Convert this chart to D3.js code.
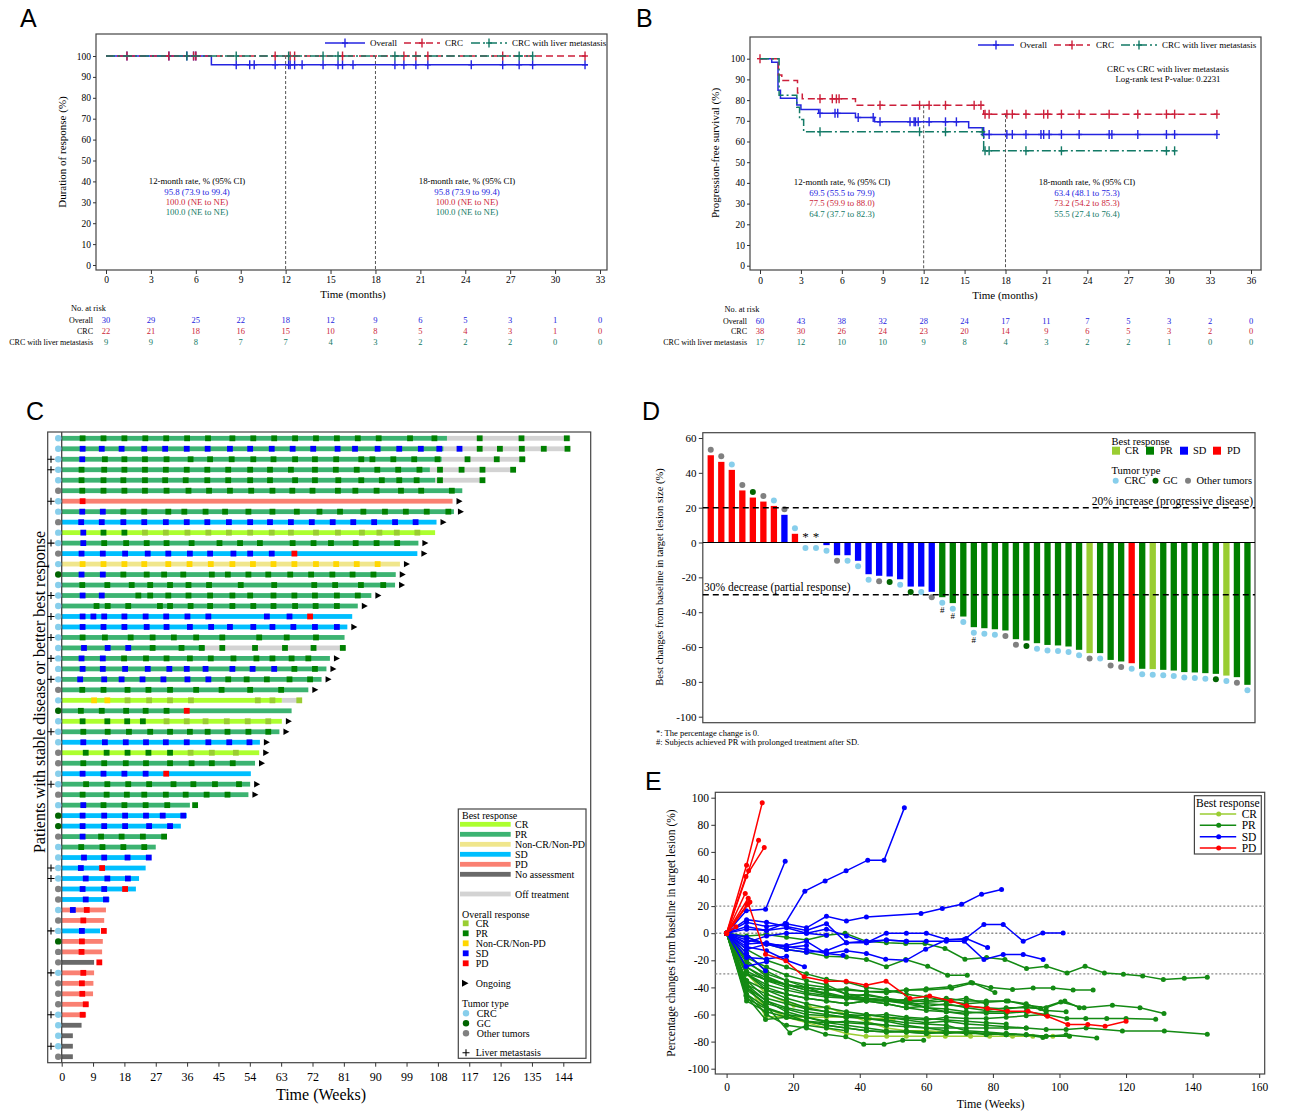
<!DOCTYPE html>
<html>
<head>
<meta charset="utf-8">
<style>
  html, body { margin: 0; padding: 0; background: #fff; overflow: hidden; }
</style>
</head>
<body>
<script src="https://d3js.org/d3.v7.min.js"></script>
<script>
const width = 1293, height = 1115;
const serif = "'Liberation Serif', 'Times New Roman', serif";
const sans = "'Liberation Sans', Arial, sans-serif";

// ---------- A / B: Kaplan-Meier curves ----------
const kmNames = ["Overall", "CRC", "CRC with liver metastasis"];
const kmColors = ["#2424e0", "#cc1f3a", "#137a66"];
const kmDash = [null, "7,4", "9,3,2,3"];
const kmYTicks = [0, 10, 20, 30, 40, 50, 60, 70, 80, 90, 100];

// A: duration of response (months, %)
const aTicks = [0, 3, 6, 9, 12, 15, 18, 21, 24, 27, 30, 33];
const aOverallSteps = [[0, 100], [7.04, 95.8]];
const aCrcSteps = [[0, 100]];
const aLiverSteps = [[0, 100]];
const aEnds = [32.2, 32.2, 28.5];
const aOverallCens = [1.4, 4.2, 5.4, 5.85, 6.0, 8.7, 9.6, 9.9, 11.3, 12.2, 12.3, 12.6, 13.1, 14.5, 15.5, 15.8, 16.5, 19.3, 19.9, 20.7, 21.5, 24.4, 26.5, 27.6, 28.5, 32.0];
const aCrcCens = [1.4, 4.2, 5.85, 6.0, 11.3, 12.3, 12.6, 15.8, 19.9, 20.7, 21.5, 26.5, 32.0];
const aLiverCens = [5.4, 8.7, 12.2, 14.5, 15.5, 19.3, 27.6, 28.5];
const aRisk = [[30, 29, 25, 22, 18, 12, 9, 6, 5, 3, 1, 0],
               [22, 21, 18, 16, 15, 10, 8, 5, 4, 3, 1, 0],
               [9, 9, 8, 7, 7, 4, 3, 2, 2, 2, 0, 0]];
const aRate12 = ["95.8 (73.9 to 99.4)", "100.0 (NE to NE)", "100.0 (NE to NE)"];
const aRate18 = ["95.8 (73.9 to 99.4)", "100.0 (NE to NE)", "100.0 (NE to NE)"];

// B: progression-free survival
const bTicks = [0, 3, 6, 9, 12, 15, 18, 21, 24, 27, 30, 33, 36];
const bOverallSteps = [[0, 100], [0.86, 98.3], [1.32, 84.7], [1.5, 80.9], [2.7, 77.6], [3.0, 75.5], [4.3, 73.6], [7.0, 71.6], [8.4, 69.5], [15.3, 66.7], [16.4, 63.4]];
const bCrcSteps = [[0, 100], [1.35, 92.1], [1.6, 89.5], [2.75, 83.4], [3.1, 80.6], [7.0, 77.5], [16.4, 73.2]];
const bLiverSteps = [[0, 100], [1.4, 82.4], [2.7, 76.5], [2.9, 70.6], [3.2, 64.7], [16.4, 55.5]];
const bEnds = [33.5, 33.5, 30.4];
const bOverallCens = [4.4, 5.5, 5.7, 7.2, 8.3, 8.8, 11.0, 11.3, 11.4, 11.6, 12.4, 13.6, 14.4, 16.4, 16.8, 18.1, 18.5, 19.5, 20.6, 20.8, 21.2, 22.1, 23.4, 25.6, 25.8, 27.7, 29.8, 30.4, 33.5];
const bCrcCens = [0, 4.4, 5.3, 5.6, 5.8, 8.8, 11.7, 12.4, 13.6, 15.7, 16.2, 16.5, 16.8, 18.1, 18.5, 19.5, 20.8, 21.1, 22.1, 23.4, 25.6, 27.7, 29.8, 30.4, 33.5];
const bLiverCens = [4.4, 11.7, 13.6, 16.3, 16.5, 16.8, 19.5, 22.1, 29.8, 30.4];
const bRisk = [[60, 43, 38, 32, 28, 24, 17, 11, 7, 5, 3, 2, 0],
               [38, 30, 26, 24, 23, 20, 14, 9, 6, 5, 3, 2, 0],
               [17, 12, 10, 10, 9, 8, 4, 3, 2, 2, 1, 0, 0]];
const bRate12 = ["69.5 (55.5 to 79.9)", "77.5 (59.9 to 88.0)", "64.7 (37.7 to 82.3)"];
const bRate18 = ["63.4 (48.1 to 75.3)", "73.2 (54.2 to 85.3)", "55.5 (27.4 to 76.4)"];

// ---------- C: swimmer plot ----------
const swimTicks = [0, 9, 18, 27, 36, 45, 54, 63, 72, 81, 90, 99, 108, 117, 126, 135, 144];
const swimTumor = "CCCCCOCCOCCOCGCCCCCCCCCCOCGCCCOOCCOCGGOCCCCOOCOCGOOCOOOCCCCO";
const swimBest = "PPPPPPDPSCPSNPPPPSSPPPPPPCPCPSCPSPPPSSPPSSSSSDDSDDXDDDDDXXXX";
const swimLiver = [3, 4, 7, 11, 16, 18, 20, 22, 24, 29, 34, 42, 43, 48, 52, 56, 59];
const swimOngoing = [7, 8, 9, 11, 12, 13, 14, 15, 16, 17, 19, 22, 23, 24, 25, 28, 29, 30, 31, 32, 34, 35];
const swimEnd = [110.6, 109.6, 109.1, 105.7, 107.2, 115, 112.2, 112.6, 107.6, 107.2,
                 102.4, 102.1, 97.1, 95.9, 95.7, 88.9, 85, 83.4, 82, 81.2,
                 41.1, 77, 76, 74.6, 70.8, 63.2, 66, 63.2, 62.5, 56.9,
                 56.7, 55.5, 54.3, 54.1, 53.6, 36.8, 35.9, 34.2, 30.1, 27,
                 25.4, 24.1, 22.2, 21.3, 13.7, 12.7, 12.2, 11, 11.8, 11.6,
                 9.3, 9.3, 9.1, 9, 7.7, 7, 5.7, 3.2, 3.2, 3.2];
const swimOffEnd = [[1, 146], [2, 146], [3, 133.3], [4, 130.4], [5, 121.5], [21, 81.6], [26, 68.9]];
const swimAssess = [
  "6P 12P 18P 24P 30P 36P 42P 49P 55P 61P 67P 73P 79P 85P 91P 100P 107P 120P 132P 145P",
  "6S 11.5S 17.2S 23.7S 29.7S 35.9S 41.9S 48.3S 54.1S 60.3S 66.3S 72.2S 79.2S 84.2S 90.7S 96.9S 103.1S 108.4S 114.2S 120P 125.8P 132.1P 138.4P 145.2P",
  "5.9S 12.4P 18P 23.9P 30.1P 37P 42.6P 48.8P 55P 60.8P 67P 72.7P 78.8P 86P 89.2P 95.2P 101.2P 107.9P 116.5P 124.9P 132.2P",
  "5.7P 12.2P 18P 23.9P 29.9P 35.9P 41.8P 47.8P 54.1P 59.8P 65.8P 72.7P 78.7P 84.7P 90.6P 96.6P 102.7P 108.6P 114.8P 120.8P 129.6P",
  "5.7P 12P 17.7P 23.9P 29.7P 35.6P 41.8P 47.8P 54.1P 59.8P 67P 72.7P 79.4P 86P 91.9P 96.9P 101.9P 108.6P 120.8P",
  "5.9P 12P 18P 23.9P 30.1P 36.4P 42.3P 48.3P 54.4P 60.5P 66.2P 72P 79.3P 84.3P 90.4P 97.4P 103.2P 112P",
  "6D",
  "5.9S 11.8S 17.7P 23.7P 30.6P 35.2P 41.3P 46.9P 53.6P 60.5P 67.5P 74P 79.9P 86.6P 92.8P 98.8P 104.8P 111P",
  "5.6S 11.5S 17.7S 23.7S 29.9S 35.9S 41.8S 48S 54.1S 59.8S 65.8S 71.8S 77.8S 83.7S 89.7S 95.7S 101.6S",
  "6.2S 12P 18P 23.9C 29.9C 36.1C 42.1C 48C 54.1C 60.3C 65.8C 73C 79.3C 86.2C 91.2C 96.2C 102.1C",
  "6.2S 12.2P 18.5P 24.4P 30.1P 37.3P 45.3P 51.2P 56.9P 66.3P 72.3P 77.3P 84.4P 90.4P 96.3P",
  "5.7S 11.8S 18.2S 24.7S 30.6S 36.8S 42.6S 49.3S 54.1S 60.3S 66.8D",
  "6N 12N 18N 23.7N 30.6N 36.7N 42.8N 49N 54.9N 60.8N 66.8N 73N 78.8N 84.7N 90.7N",
  "5.7S 11.8S 17.7P 24.4P 29.4P 34.9P 43.1P 47.7P 53.6P 59.3P 65.6P 71.6P 77.7P 83.5P 89.5P",
  "5.9P 13.1P 20.1P 25.4P 31.1P 36.4P 42.3P 51.4P 61P 72.5P 78.5P 85.9P 92.3P",
  "6S 11.5S 22P 25.4P 30.6P 36.4P 42.6P 49P 54.1P 60.8P 66.8P 72.7P 79P 85P",
  "10P 13.2P 19.1P 28.2P 31.1P 37P 42.6P 49P 55P 60.8P 67P 72.9P 79P",
  "6S 9.1S 12.2S 18S 24.1S 30S 36.1S 42.1S 58.9S 65.4S 71.3D",
  "6S 12S 18S 24.4S 30.1S 36.8S 42.9S 48.3S 55S 60.5S 66.5S 72.7S 79S",
  "6P 12.4P 19.8P 26.1P 32.2P 38.6P 46.1P 56.7P 64.6P 73P",
  "6.4S 13.2S 19.1S 26.1P 34.4P 40.2P 46.1P 55.5P 64.1P 72.3P 80.7P",
  "5.7S 11.8S 17.9P 24.2P 30.1P 36.8P 42.8P 49.3P 55.9P 60.5P 66P 70.8P",
  "6S 11.8S 18.2S 24.7S 30.9S 35.9S 41.3S 49S 54.8S 61S 66.8P 72.7P",
  "5.3S 12.2S 17.2S 23.2S 29.2S 36.1S 42.1S 47.8P 53.1P 58.9P 65.4P 71.3P",
  "5.9P 12P 18.9P 24.9P 31.1P 38.6P 45.9P 54.1P 63P",
  "9.3N 13.1N 18.9C 25.1C 31.1C 37.1C 56.3C 60.5C 68.2C",
  "5.5P 11.5P 18.5P 24.1P 30.1P 35.9D",
  "6P 13.1P 18.8P 23.3P 30.1C 35.9C 41.3C 47.4C 53.4C 59.3C",
  "6.2P 13.2P 19.3P 25.4P 31.1P 36.8P 41.9P 47.6P 53.6P 59.3P",
  "6.2S 12.4S 18.4S 24.2S 29.9S 35.9S 42.1S 48.1S 53.9S",
  "6.9P 12.9P 18.9P 24.9P 31.1P 37C 43.1C 50C",
  "6.2P 12.2P 18.4P 24.2P 31.1P 37.3P 43.1P 49.1P",
  "6S 12S 18S 24.1S 30D",
  "7P 13.1P 19.1P 25.1P 32.1P 37.8P 44P 50.9P",
  "6P 12.9P 18.7P 23.7P 29.9P 35.6P 41.6P 47.6P",
  "6.2S 12P 18P 24.1P 30.3P 38.3P",
  "6S 12.2S 18.2S 24.2S 29S 34.9S",
  "6S 12.2S 18.2S 25.1S 31.1S",
  "6S 11.3P 17.2P 23.3P 29.4P",
  "5.6P 11.7P 17.7P 23.7P",
  "6.4S 12.2S 18.9S 25S",
  "5.5S 11.6D",
  "6.9S 13.1S 19S",
  "6S 12.2S 18.2D",
  "6.9S 12.7S",
  "3.2S 7.2D",
  "6.2D",
  "5.8S 12.1D",
  "5.8D",
  "5.7D",
  "10.8D",
  "6.2D",
  "5.8D",
  "5.9D",
  "6.9D",
  "6D",
  "", "", "", ""
];
const barColor = { C: "#adff2f", P: "#3cb371", N: "#f0e68c", S: "#00bfff", D: "#fa8072", X: "#696969" };
const offColor = "#d3d3d3";
const respColor = { C: "#9acd32", P: "#008000", N: "#ffd700", S: "#0000ff", D: "#ff0000" };
const tumorColor = { C: "#87ceeb", G: "#006400", O: "#808080" };

// ---------- D: waterfall ----------
const dYTicks = [-100, -80, -60, -40, -20, 0, 20, 40, 60];
const dValues = [50.1, 46.3, 41.7, 29.9, 25.8, 23.5, 21.0, 15.9, 5.0, 0,
                 0, -1.5, -7.3, -7.3, -10.5, -18.2, -19.1, -19.5, -21.1, -25.3,
                 -25.3, -28.3, -31.4, -34.8, -42.5, -48.6, -49.2, -49.8, -50.5, -55.5,
                 -56.3, -57.8, -58.8, -59.1, -59.7, -61.6, -63.5, -63.5, -67.4, -68.3,
                 -69.3, -72.5, -72.7, -73.1, -73.5, -74.4, -74.6, -75.0, -75.4, -76.4,
                 -77.3, -81.7];
const dBest = "DDDDDDDSDSSSSSSSSSSSSSPPPPPPPPPPPPPPCPPPDPCPPPPPPCPP";
const dTumor = "OOCOGOCOCCCCOCCCOGCGCOCCCCCCOOGCCCCCOCOOCCCCCCCCGCOC";
const dZeroMark = [10, 11];
const dHashMark = [23, 24, 26];

// ---------- E: spider plot (weeks, % change) ----------
const eXTicks = [0, 20, 40, 60, 80, 100, 120, 140, 160];
const eYTicks = [-100, -80, -60, -40, -20, 0, 20, 40, 60, 80, 100];
const eCR = [
  "0 0,6 -35,11.7 -61.7,18 -61.7,24 -62,30 -62,35.6 -61.7,42.9 -63,47.5 -63,50 -63.5",
  "0 0,6 -30,12 -45,20.2 -53.1,24.9 -54.9,30.5 -54.9,36 -60,42 -65,48 -70,54 -72,60 -72,66 -73,72 -73",
  "0 0,6 -40,12 -55,18 -62,24 -66,30 -70,36 -74,41.9 -76,48.1 -76,54 -76,60.7 -76,65.7 -76,73.3 -76,79 -76,85.9 -76,92 -76,98 -76,103 -76"
];
const ePR = [
  "0 0,6 -3,12 -8,18 -12,24 -14,30 -17,36 -17.5,42 -19.4,48 -24.8,53.8 -19.4,60.4 -24.4,66.4 -31,72.3 -31",
  "0 0,6 -2,12 -1,18 -3,24 -5,30 -1.5,35.6 0,42 -6,48 -7,53.8 -7.6,59.6 -7.6,65.6 -11.3,71.6 -19.2,78.1 -17.9,83.6 -19.4,90.1 -26,96.1 -24.4,102.3 -29.3,107.7 -24.4,113.5 -29.3,119.2 -30.3,125 -31.5,131.2 -34.2,137.5 -33.2,144.4 -32.5",
  "0 0,6 -30,12 -34,18 -38,24 -40,30 -42,36 -41,42 -43,48 -44,54 -42,60 -41,67.1 -39.6,73.4 -36.4,79.4 -40.1,85.9 -41.5,92.1 -40.4,98.1 -40.4,104.1 -42,110.1 -42",
  "0 0,6 -35,12 -42,18 -45,24 -48,30 -50,36 -52,42 -50,48 -52,54 -55,60 -54,66 -52,72 -55,78 -57,84 -55,90 -55,94.3 -55.6,100.4 -50.7,107.4 -55.1,115.9 -53.1,124.2 -55.1,131.4 -59.3",
  "0 0,6 -40,12 -50,18 -55,24 -58,30 -60,36 -62,42 -60,48 -62,54 -63,60 -64,66 -62,72 -63,78 -63,84 -62,90 -61,96 -60,102.2 -63,107.9 -63,114.2 -63,120 -63,128.9 -63.5",
  "0 0,6 -45,12 -55,18 -60,24 -62,30 -65,36 -66,42 -67,48 -68,54 -69,60 -70,66 -70,72 -70,78 -70,84 -70,90 -70,96 -71,102 -71,108 -70,118.9 -72.1,131.5 -72.1,144.4 -74.5",
  "0 0,6 -50,12 -58,18 -62,24 -65,30 -68,36 -70,42 -72,48 -73,54 -72,60 -73,66 -74,72 -73,78 -75,84 -74,90 -75,96 -76,102 -75,111.2 -77.3",
  "0 0,6 -45,12 -60,18 -68,24 -70,29.7 -74.5,35.8 -76.5,41.2 -81.9,47.3 -81.9,52.9 -79,59.2 -79",
  "0 0,6 -40,11.7 -53,19 -73.6,24 -68,30 -70,36 -72",
  "0 0,5.8 -46,11.7 -63.7,18 -62,24 -65,30 -66,36 -65,42 -66,48 -68",
  "0 0,6 -38,12 -50,18 -58,24 -62,30 -66,36 -68,42 -70,48 -72,54 -73,60 -74,66 -73,72 -74,78 -74,84 -75,90 -75,96 -76,103 -76",
  "0 0,6 -30,12 -42,18 -48,24 -52,30 -55,36 -58,42 -60,48 -62,54 -64,60 -66,66 -65,72 -67,78 -68,84 -69,90 -70",
  "0 0,6 -25,12 -35,18 -40,24 -44,30 -46,36 -47,42 -48,48 -50,54 -52,60 -52,66 -53,72 -54,78 -55,84 -56,90 -54,96 -57,102 -58",
  "0 0,6 -30,12 -40,18 -45,24 -48,30 -50,36 -52,42 -50,48 -50,54 -51,60 -50,66 -48,72 -50,78 -50,84.6 -50,90 -53,96 -55,101.6 -50,106 -55",
  "0 0,6 -28,12 -35,18 -38,24 -40,30 -42,36 -42,42 -43,48 -43,54 -42,59.8 -42,67.6 -40.6,73.9 -36.7,80.6 -43.8",
  "0 0,6 -20,12 -32,18 -38,24 -42,30 -45,36 -48,42 -50,48 -52,54 -55,60 -57,66 -58,72 -60",
  "0 0,6 -22,12 -30,18 -35,24 -38,30 -40,36 -45,42 -46,48 -48,54 -50,60 -55,66 -56,72 -58,78 -59,84 -59,90 -58,96 -60",
  "0 0,6 -35,12 -48,18 -52,24 -56,30 -58,36 -60,42 -61,48 -60,54 -62,60 -63,66 -64,72 -65,78 -66,84 -67",
  "0 0,6 -15,12 -28,18 -35,24 -40,30 -45,36 -48,42 -49,48 -50,54 -49,60 -51,66 -50,72 -52,78 -51,84 -50,90 -52,96 -58",
  "0 0,6 -42,12 -52,18 -56,24 -60,30 -61,36 -62,42 -63,48 -64,54 -66,60 -67,66 -68,72 -72,78 -73,84 -74,90 -75,95 -77",
  "0 0,6 -30,12 -38,18 -42,24 -45,30 -47,36 -48,42 -49",
  "0 0,6 -25,12 -33,18 -38,24 -42,30 -44,36 -47,42 -45,48 -48,54 -52,60 -55,66 -58,72 -59,78 -58,84 -58",
  "0 0,6 -18,12 -25,18 -31,24 -35,30 -38,36 -45,42 -48,48 -49,54 -50,60 -49",
  "0 0,6 -48,12 -56,18 -60,24 -65,30 -68,36 -70,42 -72,48 -73,54 -73,60 -74,66 -73,72 -73,78 -74,84 -75",
  "0 0,6 -12,12 -20,18 -25,24 -30,30 -34,36 -36,42 -40,48 -42,54 -45,60 -47,66 -50,72 -48,78 -52",
  "0 0,6 -38,12 -45,18 -50,24 -55,30 -58,36 -60,42 -63,48 -65,54 -68,60 -70,66 -72"
];
const eSD = [
  "0 0,6 3,12 2,17.6 7.2,23.5 31,29.6 38.6,35.9 46,42.4 53.9,47.3 53.9,53.4 92.5",
  "0 0,5.9 16.5,11.7 17.7,17.6 53.1",
  "0 0,6 8,12 5,18 7,24 4,30 12.5,36 9,42 12,58.4 14.5,64.8 18.2,70.6 21.4,76.6 28.8,82.6 32.2",
  "0 0,6 5,12 2,18 4,24 0,30 3,36 -2,42 -7,48 0,54 0,60 0,66.1 -4.7,71.4 -4.7,77.3 6.4,83.1 6.4,89.1 -5.9,95 0.2,101.1 0.2",
  "0 0,6 -12,12 -8,18 -12,24 -14,30 -13,36 -7,42 -6,48 -5,54 -6,60 -6,66 -6,71.4 -6,77.3 -19.4,83.1 -15.7,89.1 -15.7,95.1 -19.4",
  "0 0,6 -5,12 -8,18 -9,24 -6,30 -15,36 -13,42 -15,47.8 -19.2,53.9 -20,59.8 -11.8,66 -5,72 -4,78.4 -10.6",
  "0 0,6 -3,12 -8,18 -10,24 -12,30 -15,35 -16.2",
  "0 0,6 -10,12 -13,18 -20,23.4 -24.8",
  "0 0,6 -15,11.7 -27.8",
  "0 0,5.8 -24.6,12 -21",
  "0 0,6 -8,12 -7,18 -10.5,24 -9",
  "0 0,6 -18,12 -19,18 -17",
  "0 0,6 -7,12 -2,18 0,24 0,30 -1.5",
  "0 0,6 10,12 8,18 5,24 2,30 7,36 -7,42 -7,48 -5,54 -6"
];
const ePD = [
  "0 0,6 50.2,10.7 96.2",
  "0 0,6.6 46,9.6 68.6",
  "0 0,5.8 41.8,11.3 63.2",
  "0 0,5.6 29.3",
  "0 0,6.5 25.8",
  "0 0,7 23.1",
  "0 0,6.2 21",
  "0 0,2.8 4.7",
  "0 0,6.5 21.9,11.7 -15.5,17.8 -20.4,23.3 -32.2,29.9 -35.4,35.9 -35.4,41.9 -38.4,47.9 -35.4,55.1 -48.2,61 -46.3,67.4 -50,72.1 -53.6,78.4 -55.6,84.4 -57.6,90.6 -57.6,96.4 -61.3,102.5 -67.4,108.5 -67.4,113.7 -68.6,120 -65"
];
const eGroups = ["CR", "PR", "SD", "PD"];
const eColors = ["#9acd32", "#138a13", "#0000ff", "#ff0000"];

// ------------------------------------------------------------
const svg = d3.select("body").append("svg")
  .attr("width", width).attr("height", height)
  .style("background", "#fff")
  .style("font-family", serif);

// plain hyphen for negative tick labels, as in the original
const plainNum = d => String(d);

function txt(g, x, y, s, size, opts = {}) {
  return g.append("text").attr("x", x).attr("y", y).text(s)
    .attr("font-size", size)
    .attr("fill", opts.fill || "#000")
    .attr("text-anchor", opts.anchor || "start")
    .attr("dominant-baseline", "central")
    .attr("font-family", opts.family || serif);
}

function vtxt(g, x, y, s, size) {
  return g.append("text").attr("transform", `translate(${x},${y}) rotate(-90)`)
    .attr("text-anchor", "middle").attr("dominant-baseline", "central")
    .attr("font-size", size).text(s);
}

function letter(s, x, y) {
  svg.append("text").attr("x", x).attr("y", y).text(s)
    .attr("font-family", sans).attr("font-size", 25);
}

function frame(g, l, t, r, b) {
  g.append("rect").attr("x", l).attr("y", t).attr("width", r - l).attr("height", b - t)
    .attr("fill", "none").attr("stroke", "#444").attr("stroke-width", 1.2);
}

function styleAxis(sel, size) {
  sel.select(".domain").remove();
  sel.selectAll(".tick line").attr("stroke", "#333");
  sel.selectAll(".tick text").attr("font-size", size).attr("font-family", serif).attr("fill", "#000");
}

function survAt(steps, t) {
  let v = 100;
  steps.forEach(s => { if (s[0] <= t) v = s[1]; });
  return v;
}

function censorMark(g, x, y, color) {
  g.append("line").attr("x1", x).attr("x2", x).attr("y1", y - 4.5).attr("y2", y + 4.5)
    .attr("stroke", color).attr("stroke-width", 1.4);
  g.append("line").attr("x1", x - 3).attr("x2", x + 3).attr("y1", y).attr("y2", y)
    .attr("stroke", color).attr("stroke-width", 1.4);
}

// ---------- KM panel ----------
function drawKM(c) {
  const g = svg.append("g");
  const [fl, ft, fr, fb] = c.frame;
  const x = d3.scaleLinear().domain([0, c.ticks[c.ticks.length - 1]]).range(c.xRange);
  const y = d3.scaleLinear().domain([0, 100]).range(c.yRange);

  frame(g, fl, ft, fr, fb);
  g.append("g").attr("transform", `translate(${fl},0)`)
    .call(d3.axisLeft(y).tickValues(kmYTicks).tickFormat(plainNum).tickSize(3).tickPadding(2))
    .call(s => styleAxis(s, 9.5));
  g.append("g").attr("transform", `translate(0,${fb})`)
    .call(d3.axisBottom(x).tickValues(c.ticks).tickFormat(plainNum).tickSize(4).tickPadding(c.xPad))
    .call(s => styleAxis(s, 9.5));

  // reference lines at 12 and 18 months
  [12, 18].forEach(t => {
    const top = d3.max(c.steps, s => survAt(s, t));
    g.append("line").attr("x1", x(t)).attr("x2", x(t)).attr("y1", y(top)).attr("y2", fb)
      .attr("stroke", "#555").attr("stroke-width", 1).attr("stroke-dasharray", "3,2");
  });

  const line = d3.line().x(d => x(d[0])).y(d => y(d[1])).curve(d3.curveStepAfter);
  c.steps.forEach((s, i) => {
    const pts = s.concat([[c.ends[i], s[s.length - 1][1]]]);
    g.append("path").attr("d", line(pts)).attr("fill", "none")
      .attr("stroke", kmColors[i]).attr("stroke-width", 1.5)
      .attr("stroke-dasharray", kmDash[i]);
    c.censors[i].forEach(t => censorMark(g, x(t), y(survAt(s, t)), kmColors[i]));
  });

  // legend
  c.legend.forEach((L, i) => {
    g.append("line").attr("x1", L[0]).attr("x2", L[1]).attr("y1", c.legendY).attr("y2", c.legendY)
      .attr("stroke", kmColors[i]).attr("stroke-width", 1.5).attr("stroke-dasharray", kmDash[i]);
    censorMark(g, (L[0] + L[1]) / 2, c.legendY, kmColors[i]);
    txt(g, L[2], c.legendY, kmNames[i], 9);
  });

  // landmark rates
  ["12-month rate, % (95% CI)", "18-month rate, % (95% CI)"].forEach((h, k) => {
    txt(g, c.rateX[k], c.rateY[0], h, 8.8, { anchor: "middle" });
    c.rates[k].forEach((r, i) => txt(g, c.rateX[k], c.rateY[i + 1], r, 8.8, { anchor: "middle", fill: kmColors[i] }));
  });

  txt(g, c.timeX, c.timeY, "Time (months)", 11, { anchor: "middle" });
  vtxt(g, c.yLabelX, c.yLabelY, c.yLabel, 11);

  // number at risk
  txt(g, c.riskTitleX, c.riskTitleY, "No. at risk", 8.3);
  c.risk.forEach((row, i) => {
    txt(g, c.riskLabelX, c.riskY[i], kmNames[i], 8, { anchor: "end" });
    row.forEach((n, j) => txt(g, x(c.ticks[j]), c.riskY[i], n, 8.5, { anchor: "middle", fill: kmColors[i] }));
  });
  return g;
}

letter("A", 20, 27);
drawKM({
  steps: [aOverallSteps, aCrcSteps, aLiverSteps], ends: aEnds,
  censors: [aOverallCens, aCrcCens, aLiverCens], ticks: aTicks,
  xRange: [106, 600], yRange: [265, 56], frame: [96, 34, 607, 270], xPad: 2.3,
  legendY: 43, legend: [[325, 365, 370], [404, 440, 445], [471, 507, 512]],
  rateX: [197, 467], rateY: [181, 192, 202, 212], rates: [aRate12, aRate18],
  timeX: 353, timeY: 294, yLabel: "Duration of response (%)", yLabelX: 62, yLabelY: 152,
  riskTitleX: 71, riskTitleY: 308, riskLabelX: 93, riskY: [320, 331, 342], risk: aRisk
});

letter("B", 636, 27);
const gB = drawKM({
  steps: [bOverallSteps, bCrcSteps, bLiverSteps], ends: bEnds,
  censors: [bOverallCens, bCrcCens, bLiverCens], ticks: bTicks,
  xRange: [760, 1251], yRange: [265.7, 58.7], frame: [750, 37, 1261, 270], xPad: 3.3,
  legendY: 45, legend: [[978, 1014, 1020], [1054, 1090, 1096], [1121, 1157, 1162]],
  rateX: [842, 1087], rateY: [182.3, 193, 203.3, 213.7], rates: [bRate12, bRate18],
  timeX: 1005, timeY: 295, yLabel: "Progression-free survival (%)", yLabelX: 715, yLabelY: 153,
  riskTitleX: 724.5, riskTitleY: 309, riskLabelX: 747, riskY: [321, 331.3, 342], risk: bRisk
});
txt(gB, 1168, 68.7, "CRC vs CRC with liver metastasis", 8.8, { anchor: "middle" });
txt(gB, 1168, 79.3, "Log-rank test P-value: 0.2231", 8.8, { anchor: "middle" });

// ---------- C: swimmer ----------
(function () {
  const g = svg.append("g");
  letter("C", 26, 420);
  const x = d3.scaleLinear().domain([0, 144]).range([61.7, 563.3]);
  const rows = d3.range(1, 61);
  const y = d3.scalePoint().domain(rows).range([438.3, 1056.7]);
  const barH = 4.8, sq = 5.8;

  frame(g, 47.7, 432, 590.7, 1062.7);
  g.append("g").attr("transform", "translate(0,1062.7)")
    .call(d3.axisBottom(x).tickValues(swimTicks).tickFormat(plainNum).tickSize(4).tickPadding(6))
    .call(s => styleAxis(s, 12));

  const offMap = new Map(swimOffEnd);
  rows.forEach((r, i) => {
    const yy = y(r);
    const end = swimEnd[i];
    if (offMap.has(r)) {
      g.append("rect").attr("x", x(end)).attr("y", yy - barH / 2)
        .attr("width", x(offMap.get(r)) - x(end)).attr("height", barH).attr("fill", offColor);
    }
    g.append("rect").attr("x", x(0)).attr("y", yy - barH / 2)
      .attr("width", x(end) - x(0)).attr("height", barH).attr("fill", barColor[swimBest[i]]);
    swimAssess[i].split(/\s+/).filter(s => s).forEach(a => {
      const wk = parseFloat(a), code = a.slice(-1);
      g.append("rect").attr("x", x(wk) - sq / 2).attr("y", yy - sq / 2)
        .attr("width", sq).attr("height", sq).attr("fill", respColor[code]);
    });
    if (swimOngoing.includes(r)) {
      const ax = x(end) + 4;
      g.append("path").attr("d", `M${ax},${yy - 3.2}L${ax + 6},${yy}L${ax},${yy + 3.2}Z`).attr("fill", "#000");
    }
  });

  g.append("line").attr("x1", x(0)).attr("x2", x(0)).attr("y1", 432).attr("y2", 1062.7)
    .attr("stroke", "#444").attr("stroke-width", 1.3);

  rows.forEach((r, i) => {
    const yy = y(r);
    g.append("circle").attr("cx", x(-1)).attr("cy", yy).attr("r", 3.2)
      .attr("fill", tumorColor[swimTumor[i]]);
    if (swimLiver.includes(r)) {
      g.append("path").attr("d", `M${47.5},${yy}h7M${51},${yy - 3.5}v7`)
        .attr("stroke", "#000").attr("stroke-width", 1.1);
    }
  });

  txt(g, 321, 1094, "Time (Weeks)", 16, { anchor: "middle" });
  vtxt(g, 39, 692, "Patients with stable disease or better best response", 16);

  // legend
  frame(g, 458.3, 809, 586, 1058.3);
  const fs = 10;
  txt(g, 462, 815, "Best response", fs);
  [["C", "CR", 824.3], ["P", "PR", 834.3], ["N", "Non-CR/Non-PD", 844.3], ["S", "SD", 854.3],
   ["D", "PD", 864.3], ["X", "No assessment", 874.3]].forEach(([k, s, yy]) => {
    g.append("rect").attr("x", 460).attr("y", yy - 2.4).attr("width", 50.7).attr("height", 4.8).attr("fill", barColor[k]);
    txt(g, 515, yy, s, fs);
  });
  g.append("rect").attr("x", 460).attr("y", 894 - 2.4).attr("width", 50.7).attr("height", 4.8).attr("fill", offColor);
  txt(g, 515, 894, "Off treatment", fs);
  txt(g, 462, 914, "Overall response", fs);
  [["C", "CR", 923.3], ["P", "PR", 933.3], ["N", "Non-CR/Non-PD", 943.3], ["S", "SD", 953.3], ["D", "PD", 963.3]]
    .forEach(([k, s, yy]) => {
      g.append("rect").attr("x", 465.7 - 2.9).attr("y", yy - 2.9).attr("width", 5.8).attr("height", 5.8).attr("fill", respColor[k]);
      txt(g, 475.7, yy, s, fs);
    });
  g.append("path").attr("d", "M462,979.8L468.5,983.3L462,986.8Z").attr("fill", "#000");
  txt(g, 475.7, 983.3, "Ongoing", fs);
  txt(g, 462, 1003.3, "Tumor type", fs);
  [["C", "CRC", 1013.3], ["G", "GC", 1023.3], ["O", "Other tumors", 1033.3]].forEach(([k, s, yy]) => {
    g.append("circle").attr("cx", 466).attr("cy", yy).attr("r", 3.2).attr("fill", tumorColor[k]);
    txt(g, 476.7, yy, s, fs);
  });
  g.append("path").attr("d", "M462.5,1052.7h7M466,1049.2v7").attr("stroke", "#000").attr("stroke-width", 1.1);
  txt(g, 475.7, 1052.7, "Liver metastasis", fs);
})();

// ---------- D: waterfall ----------
(function () {
  const g = svg.append("g");
  letter("D", 642, 420);
  const idx = d3.range(dValues.length);
  const x = d3.scaleBand().domain(idx).range([707.6, 1250.6]).paddingInner(0.4);
  const y = d3.scaleLinear().domain([-100, 60]).range([716.7, 438]);
  const dColor = { C: "#9acd32", P: "#008000", S: "#0000ff", D: "#ff0000" };

  frame(g, 702.8, 432.7, 1255, 722.7);
  g.append("g").attr("transform", "translate(702.8,0)")
    .call(d3.axisLeft(y).tickValues(dYTicks).tickFormat(plainNum).tickSize(4).tickPadding(2.3))
    .call(s => styleAxis(s, 11));

  g.selectAll("rect.bar").data(idx).join("rect").attr("class", "bar")
    .attr("x", i => x(i)).attr("width", x.bandwidth())
    .attr("y", i => y(Math.max(0, dValues[i])))
    .attr("height", i => Math.abs(y(dValues[i]) - y(0)))
    .attr("fill", i => dColor[dBest[i]]);

  g.selectAll("circle.tum").data(idx).join("circle").attr("class", "tum")
    .attr("cx", i => x(i) + x.bandwidth() / 2)
    .attr("cy", i => dValues[i] > 0 ? y(dValues[i]) - 5.5 : y(dValues[i]) + 5.5)
    .attr("r", 3).attr("fill", i => tumorColor[dTumor[i]]);

  dZeroMark.forEach(n => txt(g, x(n - 1) + x.bandwidth() / 2, y(0) - 6, "*", 13, { anchor: "middle" }));
  dHashMark.forEach(n => txt(g, x(n - 1) + x.bandwidth() / 2, y(dValues[n - 1]) + 12.5, "#", 9, { anchor: "middle" }));

  g.append("line").attr("x1", 702.8).attr("x2", 1255).attr("y1", y(0)).attr("y2", y(0)).attr("stroke", "#000").attr("stroke-width", 1.2);
  [20, -30].forEach(v => g.append("line").attr("x1", 702.8).attr("x2", 1255).attr("y1", y(v)).attr("y2", y(v))
    .attr("stroke", "#000").attr("stroke-width", 1.5).attr("stroke-dasharray", "6,4"));
  txt(g, 1253, y(20) - 7, "20% increase (progressive disease)", 11.5, { anchor: "end" });
  txt(g, 704, y(-30) - 7.5, "30% decrease (partial response)", 11.5);

  vtxt(g, 659, 577, "Best changes from baseline in target lesion size (%)", 10.5);

  txt(g, 1111.5, 441, "Best response", 10.5);
  [["C", "CR", 1116, 1125], ["P", "PR", 1150, 1160], ["S", "SD", 1184, 1193], ["D", "PD", 1217, 1227]]
    .forEach(([k, s, sx, tx]) => {
      g.append("rect").attr("x", sx - 4).attr("y", 450.7 - 4).attr("width", 8).attr("height", 8).attr("fill", dColor[k]);
      txt(g, tx, 450.7, s, 10.5);
    });
  txt(g, 1111.5, 470.7, "Tumor type", 10.5);
  [["C", "CRC", 1115.7, 1124.5], ["G", "GC", 1155.5, 1163], ["O", "Other tumors", 1188, 1196.5]]
    .forEach(([k, s, cx, tx]) => {
      g.append("circle").attr("cx", cx).attr("cy", 480.7).attr("r", 3).attr("fill", tumorColor[k]);
      txt(g, tx, 480.7, s, 10.5);
    });

  txt(g, 656, 733.3, "*: The percentage change is 0.", 8.5);
  txt(g, 656, 742.3, "#: Subjects achieved PR with prolonged treatment after SD.", 8.5);
})();

// ---------- E: spider ----------
(function () {
  const g = svg.append("g");
  letter("E", 645, 790);
  const x = d3.scaleLinear().domain([0, 160]).range([726.6, 1259.2]);
  const y = d3.scaleLinear().domain([-100, 100]).range([1068.7, 797.7]);

  frame(g, 715.3, 792.3, 1264.7, 1074);
  g.append("g").attr("transform", "translate(715.3,0)")
    .call(d3.axisLeft(y).tickValues(eYTicks).tickFormat(plainNum).tickSize(4).tickPadding(2.3))
    .call(s => styleAxis(s, 11.5));
  g.append("g").attr("transform", "translate(0,1074)")
    .call(d3.axisBottom(x).tickValues(eXTicks).tickFormat(plainNum).tickSize(4).tickPadding(5))
    .call(s => styleAxis(s, 11.5));

  [20, 0, -30].forEach(v => g.append("line").attr("x1", 715.3).attr("x2", 1264.7).attr("y1", y(v)).attr("y2", y(v))
    .attr("stroke", "#888").attr("stroke-width", 1.4).attr("stroke-dasharray", "2,2"));

  const parse = s => s.split(",").map(p => p.trim().split(/\s+/).map(Number));
  const line = d3.line().x(d => x(d[0])).y(d => y(d[1]));
  [eCR, ePR, eSD, ePD].forEach((set, gi) => {
    set.forEach(s => {
      const pts = parse(s);
      g.append("path").attr("d", line(pts)).attr("fill", "none")
        .attr("stroke", eColors[gi]).attr("stroke-width", 1.5);
      pts.forEach(p => g.append("circle").attr("cx", x(p[0])).attr("cy", y(p[1])).attr("r", 2.5).attr("fill", eColors[gi]));
    });
  });

  txt(g, 990.6, 1104.3, "Time (Weeks)", 12, { anchor: "middle" });
  vtxt(g, 671.4, 933, "Percentage changes from baseline in target lesion  (%)", 11.5);

  g.append("rect").attr("x", 1194.4).attr("y", 795.7).attr("width", 66.9).attr("height", 58.3)
    .attr("fill", "#fff").attr("stroke", "#444").attr("stroke-width", 1.2);
  txt(g, 1196, 803.2, "Best response", 11.5);
  eGroups.forEach((n, i) => {
    const yy = 814 + i * 11.33;
    g.append("line").attr("x1", 1199.8).attr("x2", 1236.2).attr("y1", yy).attr("y2", yy)
      .attr("stroke", eColors[i]).attr("stroke-width", 1.5);
    g.append("circle").attr("cx", 1218.7).attr("cy", yy).attr("r", 2.5).attr("fill", eColors[i]);
    txt(g, 1241.7, yy, n, 11.5);
  });
})();
</script>
</body>
</html>
